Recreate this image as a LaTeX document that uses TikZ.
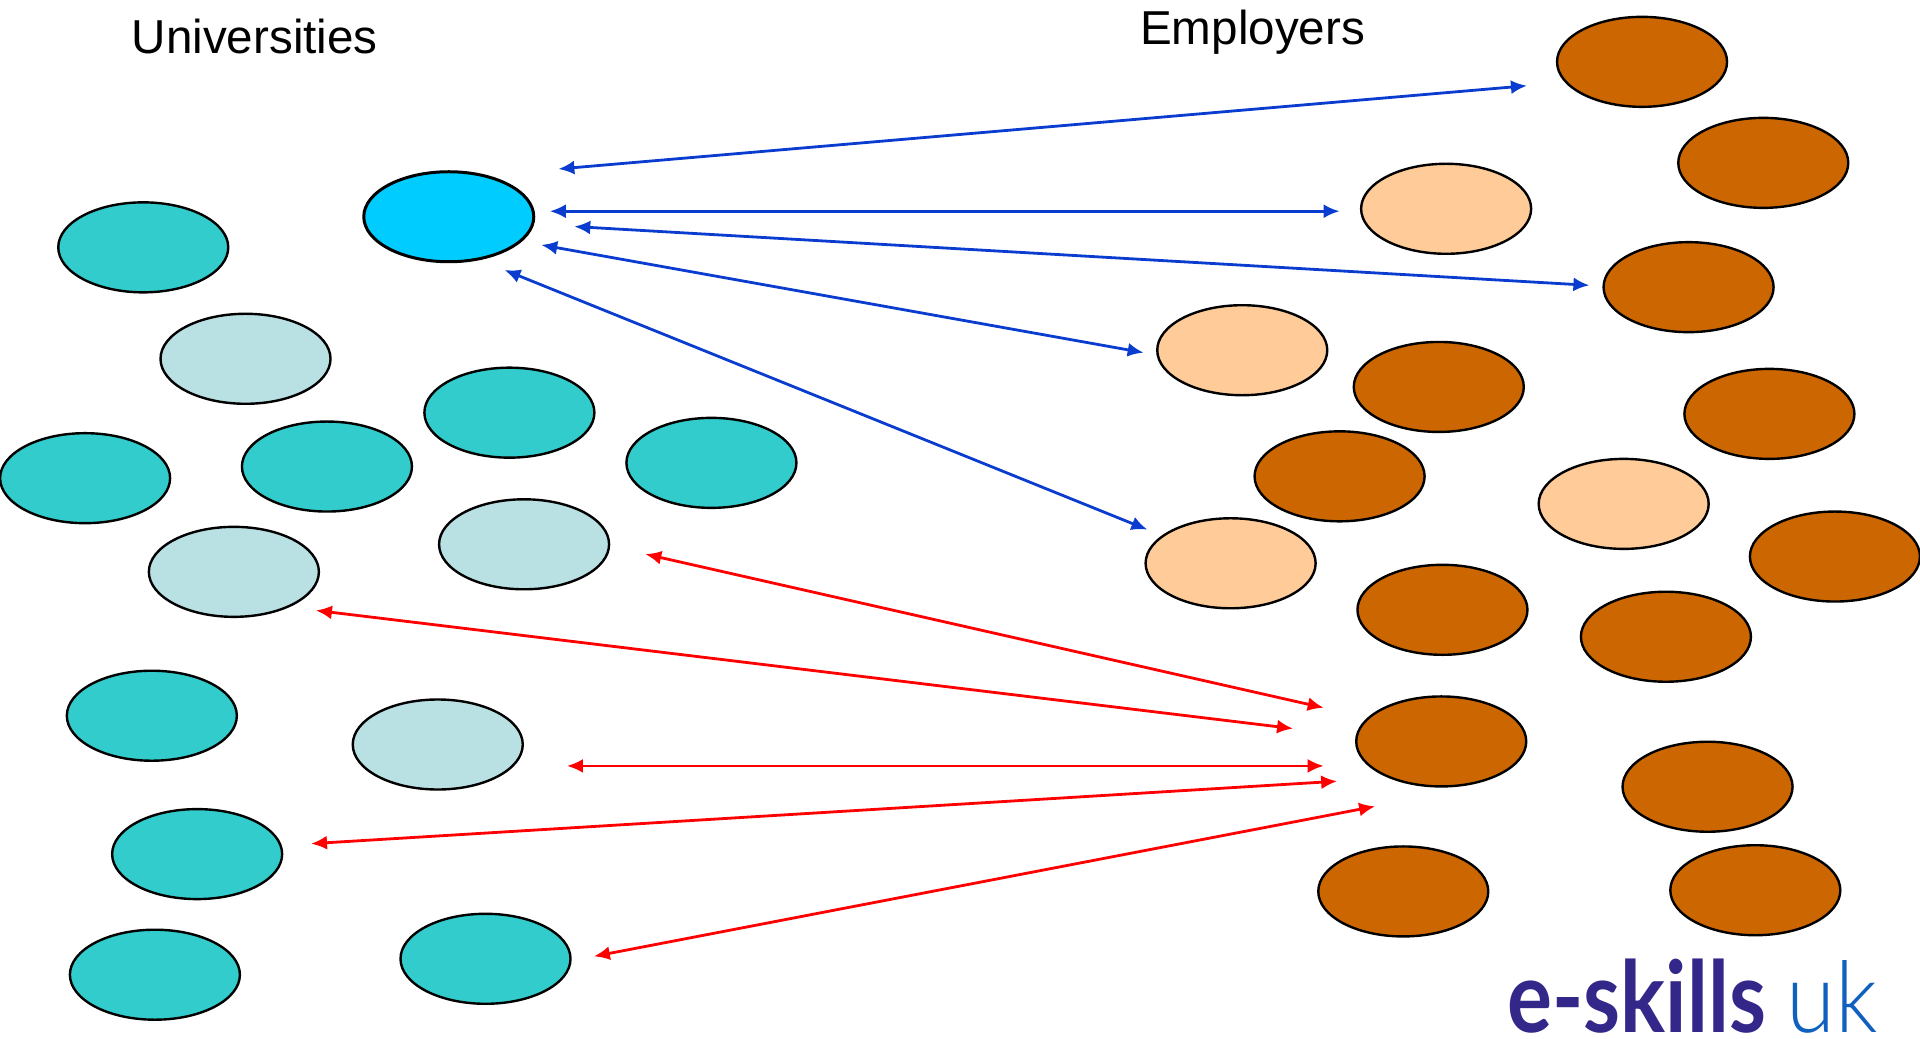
\documentclass[tikz,border=0pt]{standalone}
\usepackage{fontspec}
\usepackage{graphicx}
\setmainfont{Liberation Sans}
\newfontfamily\logofont{Lato}
\newfontfamily\logolight{Lato Light}
\usetikzlibrary{shapes.geometric,arrows.meta}
\definecolor{tealfill}{HTML}{33CCCC}
\definecolor{lightfill}{HTML}{B9E0E3}
\definecolor{cyanfill}{HTML}{00CCFF}
\definecolor{brownfill}{HTML}{CC6600}
\definecolor{peachfill}{HTML}{FFCC99}
\definecolor{bluearrow}{HTML}{0A3CCF}
\definecolor{redarrow}{HTML}{FF0000}
\definecolor{logoA}{HTML}{33288A}
\definecolor{logoB}{HTML}{1060C0}
\tikzset{
  blob/.style={ellipse,draw=black,line width=2.4pt,minimum width=170pt,minimum height=90pt,inner sep=0pt},
  uni/.style={blob,fill=tealfill},
  unilight/.style={blob,fill=lightfill},
  unisel/.style={blob,fill=cyanfill,line width=3pt},
  emp/.style={blob,fill=brownfill},
  emplight/.style={blob,fill=peachfill},
  bluelink/.style={draw=bluearrow,line width=2.8pt,{Latex[length=16pt,width=14pt]}-{Latex[length=16pt,width=14pt]}},
  redlink/.style={draw=redarrow,line width=2.8pt,{Latex[length=16pt,width=14pt]}-{Latex[length=16pt,width=14pt]}},
  heading/.style={font=\fontsize{47.6}{50}\selectfont,text=black,inner sep=0pt}
}
\begin{document}
\begin{tikzpicture}[x=1.22449pt,y=-1.22449pt]
\useasboundingbox (0,0) rectangle (1568,848.5);
% Universities
\node[uni] (u1) at (117,202) {};
\node[uni] (u2) at (267,381) {};
\node[uni] (u3) at (69.5,390.5) {};
\node[uni] (u4) at (416,337) {};
\node[uni] (u5) at (581,378) {};
\node[uni] (u6) at (124,584.5) {};
\node[uni] (u7) at (161,697.5) {};
\node[uni] (u8) at (126.5,796) {};
\node[uni] (u9) at (396.5,783) {};
\node[unilight] (l1) at (200.5,293) {};
\node[unilight] (l2) at (191,467) {};
\node[unilight] (l3) at (428,444.5) {};
\node[unilight] (l4) at (357.5,608) {};
\node[unisel] (sel) at (366.5,177) {};
% Employers
\node[emp] (e1) at (1341,50.5) {};
\node[emp] (e2) at (1440,133) {};
\node[emp] (e3) at (1379,234.5) {};
\node[emp] (e4) at (1175,316) {};
\node[emp] (e5) at (1445,338) {};
\node[emp] (e6) at (1094,389) {};
\node[emp] (e7) at (1498.5,454.5) {};
\node[emp] (e8) at (1178,498) {};
\node[emp] (e9) at (1360.5,520) {};
\node[emp] (e10) at (1177,605.5) {};
\node[emp] (e11) at (1394.5,642.5) {};
\node[emp] (e12) at (1146,728) {};
\node[emp] (e13) at (1433.5,727) {};
\node[emplight] (p1) at (1181,170.5) {};
\node[emplight] (p2) at (1014.5,286) {};
\node[emplight] (p3) at (1326,411.5) {};
\node[emplight] (p4) at (1005,460) {};
% Labels
\node[heading] (tu) at (208,30) {Universities};
\node[heading] (te) at (1023,26) {Employers};
% Connector ends
\coordinate (b1a) at (456,138); \coordinate (b1b) at (1247,70);
\coordinate (b2a) at (449,172.5); \coordinate (b2b) at (1094,172.5);
\coordinate (b3a) at (469,185); \coordinate (b3b) at (1298,233);
\coordinate (b4a) at (442,200); \coordinate (b4b) at (934,288);
\coordinate (b5a) at (412,220.5); \coordinate (b5b) at (937,432.5);
\coordinate (r1a) at (527,452.5); \coordinate (r1b) at (1081,578);
\coordinate (r2a) at (258,498.5); \coordinate (r2b) at (1056,595);
\coordinate (r3a) at (463,625.5); \coordinate (r3b) at (1081,625.5);
\coordinate (r4a) at (254,689); \coordinate (r4b) at (1092,638);
\coordinate (r5a) at (485,781); \coordinate (r5b) at (1123,658.5);
\foreach \n in {1,...,5} {
  \draw[bluelink] (b\n a) -- (b\n b);
  \draw[redlink] (r\n a) -- (r\n b);
}
% Logo
\node[anchor=base west,inner sep=0pt,text=logoA] (logo1) at (1231,843) {\raisebox{0pt}[\height][0pt]{\scalebox{.85}[1]{\logofont\bfseries\fontsize{99}{100}\selectfont e-skills}}};
\node[anchor=base west,inner sep=0pt,text=logoB] (logo2) at (1459,843) {\raisebox{0pt}[\height][0pt]{\scalebox{.9}[1]{\logolight\fontsize{99}{100}\selectfont uk}}};
\end{tikzpicture}
\end{document}
